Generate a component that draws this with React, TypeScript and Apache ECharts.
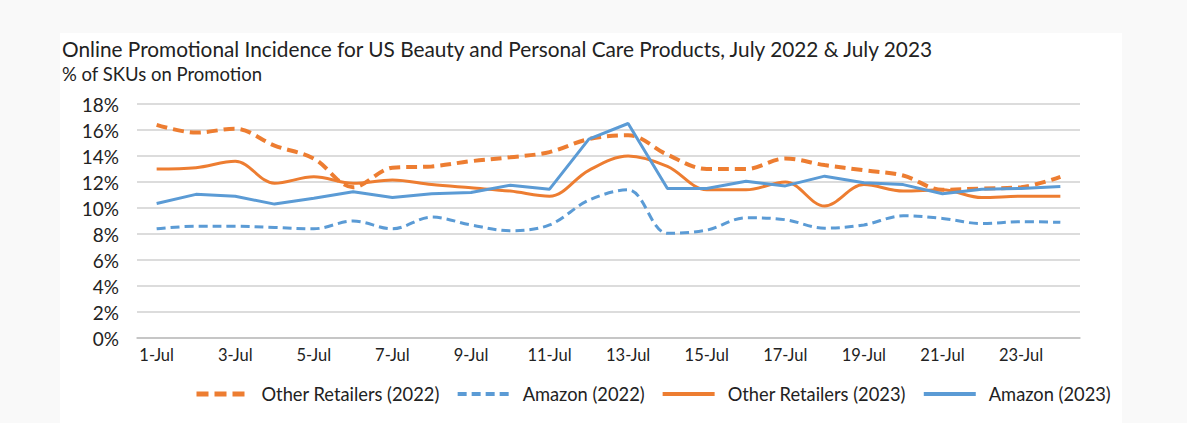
import React, { useEffect, useRef } from "react";
import * as echarts from "echarts";

const categories = ["1-Jul","2-Jul","3-Jul","4-Jul","5-Jul","6-Jul","7-Jul","8-Jul","9-Jul","10-Jul","11-Jul","12-Jul","13-Jul","14-Jul","15-Jul","16-Jul","17-Jul","18-Jul","19-Jul","20-Jul","21-Jul","22-Jul","23-Jul","24-Jul"];
const other2022 = [16.4,15.8,16.1,14.8,13.8,11.6,13.1,13.2,13.6,13.9,14.3,15.3,15.6,14.1,13.0,13.0,13.8,13.3,12.9,12.5,11.4,11.5,11.6,12.4];
const amazon2022 = [8.4,8.6,8.6,8.5,8.4,9.0,8.4,9.3,8.7,8.25,8.7,10.6,11.4,8.05,8.3,9.25,9.1,8.45,8.7,9.4,9.2,8.8,8.95,8.9];
const other2023 = [13.0,13.1,13.6,11.9,12.4,11.9,12.15,11.8,11.55,11.3,10.9,12.9,14.0,13.2,11.4,11.4,12.0,10.15,11.8,11.3,11.4,10.8,10.9,10.9];
const amazon2023 = [10.35,11.05,10.9,10.3,10.75,11.25,10.8,11.1,11.2,11.75,11.45,15.3,16.5,11.5,11.5,12.05,11.7,12.45,11.95,11.8,11.1,11.45,11.5,11.65];
const seriesNames = ["Other Retailers (2022)","Amazon (2022)","Other Retailers (2023)","Amazon (2023)"];
const titleText = "Online Promotional Incidence for US Beauty and Personal Care Products, July 2022 & July 2023";
const subtitleText = "% of SKUs on Promotion";

const ORANGE = "#ED7D31";
const BLUE = "#5B9BD5";
const FONT = "Lato";

export default function App() {
  const ref = useRef<HTMLDivElement>(null);
  useEffect(() => {
    if (!ref.current) return;
    const chart = echarts.init(ref.current, null, { renderer: "svg" });
    chart.setOption({
      animation: false,
      backgroundColor: "#f9f9f9",
      graphic: [
        { type: "rect", shape: { x: 60, y: 33, width: 1062, height: 390 }, style: { fill: "#ffffff" }, z: -10 },
        { type: "text", x: 62, y: 48, style: { text: titleText, font: `20.8px ${FONT}`, fill: "#222", textVerticalAlign: "middle" } },
        { type: "text", x: 62, y: 74, style: { text: subtitleText, font: `18.5px ${FONT}`, fill: "#222", textVerticalAlign: "middle" } },
      ],
      grid: { left: 137, right: 107, top: 104, bottom: 85, containLabel: false },
      legend: {
        left: 189,
        top: 380,
        itemWidth: 52,
        itemHeight: 14,
        itemGap: 16,
        itemStyle: { opacity: 0 },
        textStyle: { fontFamily: FONT, fontSize: 18.3, color: "#222", padding: [0, 0, 0, 8] },
        data: [
          { name: seriesNames[0], lineStyle: { width: 5, type: [12, 6] } },
          { name: seriesNames[1], lineStyle: { width: 4, type: [9, 5] } },
          { name: seriesNames[2], lineStyle: { width: 4 } },
          { name: seriesNames[3], lineStyle: { width: 4 } },
        ],
      },
      xAxis: {
        type: "category",
        data: categories,
        boundaryGap: true,
        axisLine: { lineStyle: { color: "#bfbfbf", width: 1.5 } },
        axisTick: { show: false },
        axisLabel: { interval: 1, fontFamily: FONT, fontSize: 16.5, color: "#222", margin: 8 },
      },
      yAxis: {
        type: "value",
        min: 0,
        max: 18,
        interval: 2,
        axisLine: { show: false },
        axisTick: { show: false },
        splitLine: { lineStyle: { color: "#d0d0d0", width: 1.5 } },
        axisLabel: { formatter: "{value}%", fontFamily: FONT, fontSize: 19, color: "#222", margin: 18 },
      },
      series: [
        {
          name: seriesNames[0], type: "line", data: other2022, smooth: 0.35, symbol: "none",
          lineStyle: { color: ORANGE, width: 4, type: [11, 6] }, itemStyle: { color: ORANGE },
        },
        {
          name: seriesNames[1], type: "line", data: amazon2022, smooth: 0.35, symbol: "none",
          lineStyle: { color: BLUE, width: 3, type: [9, 5] }, itemStyle: { color: BLUE },
        },
        {
          name: seriesNames[2], type: "line", data: other2023, smooth: 0.35, symbol: "none",
          lineStyle: { color: ORANGE, width: 3 }, itemStyle: { color: ORANGE },
        },
        {
          name: seriesNames[3], type: "line", data: amazon2023, smooth: false, symbol: "none",
          lineStyle: { color: BLUE, width: 3 }, itemStyle: { color: BLUE },
        },
      ],
    });
    return () => chart.dispose();
  }, []);
  return <div ref={ref} style={{ position: "fixed", left: 0, top: 0, width: 1187, height: 423 }} />;
}
